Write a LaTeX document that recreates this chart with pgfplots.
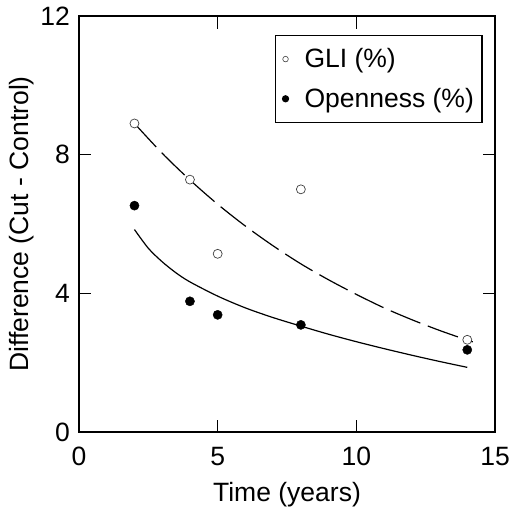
\documentclass[border=0pt]{standalone}
\usepackage{pgfplots}
\pgfplotsset{compat=1.18}
\usepackage{fontspec}
\setmainfont{Liberation Sans}
\newcommand{\bigf}{\fontsize{26.5}{30}\selectfont}
\begin{document}
\begin{tikzpicture}
\begin{axis}[
  scale only axis,
  width=416pt, height=416pt,
  xmin=0, xmax=15, ymin=0, ymax=12,
  xtick={0,5,10,15}, ytick={0,4,8,12},
  /pgf/number format/assume math mode=true,
  tick align=inside,
  major tick length=12.5pt,
  axis line style={line width=1.2pt, black},
  every tick/.style={line width=1.2pt, black},
  tick label style={font=\bigf},
  xticklabel style={anchor=base, yshift=-33pt},
  yticklabel style={anchor=east, inner sep=0pt, xshift=-9pt},
  xlabel={Time (years)},
  ylabel={Difference (Cut - Control)},
  label style={font=\bigf},
  xlabel style={at={(rel axis cs:0.5,0)}, anchor=base, yshift=-69pt},
  ylabel style={at={(rel axis cs:0,0.5)}, anchor=center, yshift=57pt},
  legend style={at={(rel axis cs:0.471,0.954)}, anchor=north west,
    draw=black, line width=1.2pt, font=\bigf,
    inner xsep=6pt, inner ysep=11pt, row sep=15pt},
  legend cell align=left,
  clip=false,
]
\coordinate (bl) at (rel axis cs:0,0);
\coordinate (tr) at (rel axis cs:1,1);
% fitted curves
\addplot[black, line width=1.2pt, dash pattern=on 32pt off 8pt, smooth, forget plot] coordinates {
(2,8.90) (3,8.04) (4,7.27) (5,6.57) (6,5.94) (7,5.37) (8,4.85) (9,4.39)
(10,3.97) (11,3.58) (12,3.24) (13,2.93) (14,2.65) (14.2,2.60)};
\addplot[black, line width=1.2pt, smooth, forget plot] coordinates {
(2,5.84) (2.5,5.30) (3,4.91) (3.5,4.59) (4,4.33) (5,3.92) (6,3.58) (7,3.30) (8,3.055)
(9,2.82) (10,2.605) (11,2.405) (12,2.215) (13,2.035) (14,1.865)};
% data
\addplot[only marks, mark=*, mark size=4.5pt, mark options={draw=black!75, fill=white, line width=0.7pt}, forget plot] coordinates {
(2,8.90) (4,7.28) (5,5.14) (8,7.00) (14,2.66)};
\addplot[only marks, mark=*, mark size=4.6pt, mark options={draw=black, fill=black}, forget plot] coordinates {
(2,6.53) (4,3.77) (5,3.38) (8,3.09) (14,2.37)};
\addlegendimage{legend image code/.code={\path[draw=none,fill=none] (0pt,-1pt) rectangle (21pt,1pt); \draw[black!75, line width=0.6pt, fill=white] (4pt,0pt) circle (2.8pt);}}
\addlegendentry{GLI (\%)}
\addlegendimage{legend image code/.code={\path[draw=none,fill=none] (0pt,-1pt) rectangle (21pt,1pt); \fill[black] (4pt,0pt) circle (3pt);}}
\addlegendentry{Openness (\%)}
\end{axis}
\pgfresetboundingbox
\path ([shift={(-79pt,-75pt)}]bl) rectangle ([shift={(16pt,16pt)}]tr);
\end{tikzpicture}
\end{document}
